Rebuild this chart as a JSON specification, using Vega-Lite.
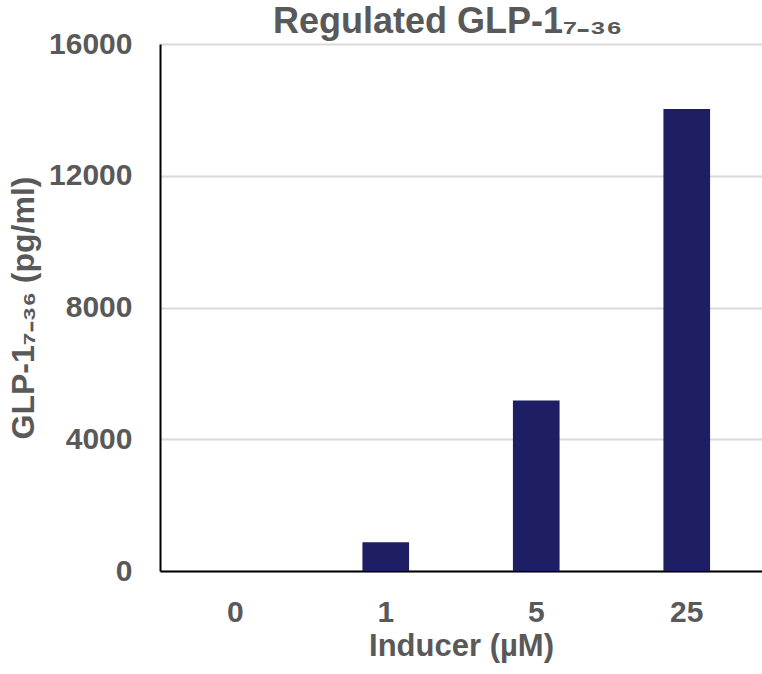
{
  "$schema": "https://vega.github.io/schema/vega-lite/v6.json",
  "autosize": {"type": "none"},
  "padding": {"left": 160, "top": 44, "right": 0, "bottom": 103},
  "width": 602,
  "height": 527,
  "background": "white",
  "title": {
    "text": "Regulated GLP-1₇₋₃₆",
    "font": "Liberation Sans",
    "fontSize": 36,
    "fontWeight": "bold",
    "color": "#595959",
    "anchor": "start",
    "frame": "group",
    "dx": 113,
    "offset": -12
  },
  "data": {
    "values": [
      {"inducer": "0", "glp": 0},
      {"inducer": "1", "glp": 870},
      {"inducer": "5", "glp": 5180},
      {"inducer": "25", "glp": 14030}
    ]
  },
  "mark": {"type": "bar", "color": "#1e1e64"},
  "encoding": {
    "x": {
      "field": "inducer",
      "type": "ordinal",
      "sort": ["0", "1", "5", "25"],
      "scale": {"paddingInner": 0.69, "paddingOuter": 0.345},
      "axis": {
        "title": "Inducer (µM)",
        "labelAngle": 0,
        "labelFont": "Liberation Sans",
        "labelFontSize": 30,
        "labelFontWeight": "bold",
        "labelColor": "#595959",
        "labelPadding": 26,
        "ticks": false,
        "domainColor": "#000000",
        "domainWidth": 2,
        "titleFont": "Liberation Sans",
        "titleFontSize": 31,
        "titleFontWeight": "bold",
        "titleColor": "#595959",
        "titlePadding": 4
      }
    },
    "y": {
      "field": "glp",
      "type": "quantitative",
      "scale": {"domain": [0, 16000], "nice": false},
      "axis": {
        "title": "GLP-1₇₋₃₆ (pg/ml)",
        "values": [0, 4000, 8000, 12000, 16000],
        "format": "d",
        "labelFont": "Liberation Sans",
        "labelFontSize": 30,
        "labelFontWeight": "bold",
        "labelColor": "#595959",
        "labelPadding": 28,
        "ticks": false,
        "domainColor": "#000000",
        "domainWidth": 2,
        "grid": true,
        "gridColor": "#d9d9d9",
        "gridWidth": 2,
        "titleFont": "Liberation Sans",
        "titleFontSize": 32,
        "titleFontWeight": "bold",
        "titleColor": "#595959",
        "titlePadding": 8
      }
    }
  },
  "config": {"view": {"stroke": null}}
}
